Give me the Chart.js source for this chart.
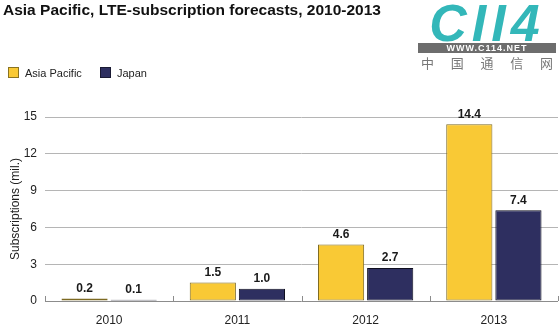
<!DOCTYPE html>
<html>
<head>
<meta charset="utf-8">
<script src="https://cdn.jsdelivr.net/npm/chart.js@4.4.0/dist/chart.umd.min.js"></script>
<style>
  body { margin: 0; background: #fff; font-family: "Liberation Sans", Arial, sans-serif; }
  #wrap { position: relative; width: 560px; height: 333px; overflow: hidden; }
  #chart { position: absolute; left: 0; top: 0; }
  .title { position: absolute; left: 3px; top: 1px; font-size: 15.5px; font-weight: bold; color: #111; white-space: nowrap; }
  .legend { position: absolute; top: 67px; font-size: 11px; color: #222; white-space: nowrap; }
  .legend span.sw { display: inline-block; width: 9px; height: 9px; border: 1px solid #333; vertical-align: -1px; margin-right: 6px; }
  .logo { position: absolute; left: 418px; top: 3px; width: 138px; }
  .logo .big { font-size: 52px; font-weight: bold; font-style: italic; color: #33b7b9; letter-spacing: 5px; line-height: 40px; text-align: center; white-space: nowrap; }
  .logo .url { background: #6d6d6d; color: #fff; font-size: 9px; font-weight: bold; letter-spacing: 1px; line-height: 10px; text-align: center; }
  .logo .cn { display: flex; justify-content: space-between; color: #777; font-size: 13px; line-height: 20px; padding: 0 3px; font-family: "Noto Sans CJK SC", sans-serif; }
</style>
</head>
<body>
<div id="wrap">
  <canvas id="chart" width="560" height="333"></canvas>
  <div class="title">Asia Pacific, LTE-subscription forecasts, 2010-2013</div>
  <div class="legend" style="left:8px"><span class="sw" style="background:#f9c935;border-color:#8a7320"></span>Asia Pacific</div>
  <div class="legend" style="left:100px"><span class="sw" style="background:#2e2f60;border-color:#1a1a33"></span>Japan</div>
  <div class="logo">
    <div class="big">CII4</div>
    <div class="url">WWW.C114.NET</div>
    <div class="cn"><span>中</span><span>国</span><span>通</span><span>信</span><span>网</span></div>
  </div>
</div>
<script>
var years = ['2010', '2011', '2012', '2013'];
var asiaPacific = [0.2, 1.5, 4.6, 14.4];
var japan = [0.1, 1.0, 2.7, 7.4];
var yTicks = [0, 3, 6, 9, 12, 15];

var fontFamily = '"Liberation Sans", Arial, sans-serif';

// value labels above each bar
var barLabels = {
    id: 'barLabels',
    afterDatasetsDraw: function(chart) {
        var ctx = chart.ctx;
        ctx.save();
        ctx.font = 'bold 12px ' + fontFamily;
        ctx.fillStyle = '#1a1a1a';
        ctx.textAlign = 'center';
        ctx.textBaseline = 'bottom';
        chart.data.datasets.forEach(function(ds, i) {
            chart.getDatasetMeta(i).data.forEach(function(bar, j) {
                ctx.fillText(ds.data[j].toFixed(1), bar.x, bar.y - 4);
            });
        });
        ctx.restore();
    }
};

// small upward ticks on the x axis at category boundaries
var xBoundaryTicks = {
    id: 'xBoundaryTicks',
    afterDraw: function(chart) {
        var x = chart.scales.x;
        var ctx = chart.ctx;
        var n = chart.data.labels.length;
        ctx.save();
        ctx.strokeStyle = '#8c8c8c';
        ctx.lineWidth = 1;
        ctx.beginPath();
        for (var i = 0; i <= n; i++) {
            var px = Math.round(x.left + i * x.width / n) + 0.5;
            ctx.moveTo(px, x.top);
            ctx.lineTo(px, x.top - 5);
        }
        ctx.moveTo(x.left, x.top + 0.5);
        ctx.lineTo(x.right, x.top + 0.5);
        ctx.stroke();
        ctx.restore();
    }
};

new Chart(document.getElementById('chart'), {
    type: 'bar',
    data: {
        labels: years,
        datasets: [{
            label: 'Asia Pacific',
            data: asiaPacific,
            backgroundColor: '#f9c935',
            borderColor: '#7d6a22',
            borderWidth: 1,
            borderSkipped: false,
            categoryPercentage: 0.766,
            barPercentage: 0.94
        }, {
            label: 'Japan',
            data: japan,
            backgroundColor: '#2e2f60',
            borderColor: '#0e0e1e',
            borderWidth: 1,
            borderSkipped: false,
            categoryPercentage: 0.766,
            barPercentage: 0.94
        }]
    },
    options: {
        responsive: false,
        animation: false,
        layout: { padding: { top: 117, right: 2, left: 0, bottom: 0 } },
        plugins: {
            legend: { display: false },
            tooltip: { enabled: false }
        },
        scales: {
            x: {
                grid: { display: false },
                border: { display: false },
                ticks: { color: '#222', font: { size: 12, family: fontFamily }, padding: 4 },
                afterFit: function(scale) { scale.height = 32; }
            },
            y: {
                min: 0,
                max: 15,
                afterBuildTicks: function(scale) {
                    scale.ticks = yTicks.map(function(v) { return { value: v }; });
                },
                grid: {
                    color: function(c) { return c.tick && c.tick.value === 0 ? 'rgba(0,0,0,0)' : '#b5b5b5'; },
                    drawTicks: false
                },
                border: { display: false },
                ticks: { color: '#222', font: { size: 12, family: fontFamily }, padding: 8 },
                title: {
                    display: true,
                    text: 'Subscriptions (mil.)',
                    color: '#222',
                    font: { size: 12, family: fontFamily },
                    padding: { top: 8, bottom: 0 }
                },
                afterFit: function(scale) { scale.width = 45; }
            }
        }
    },
    plugins: [barLabels, xBoundaryTicks]
});
</script>
</body>
</html>
